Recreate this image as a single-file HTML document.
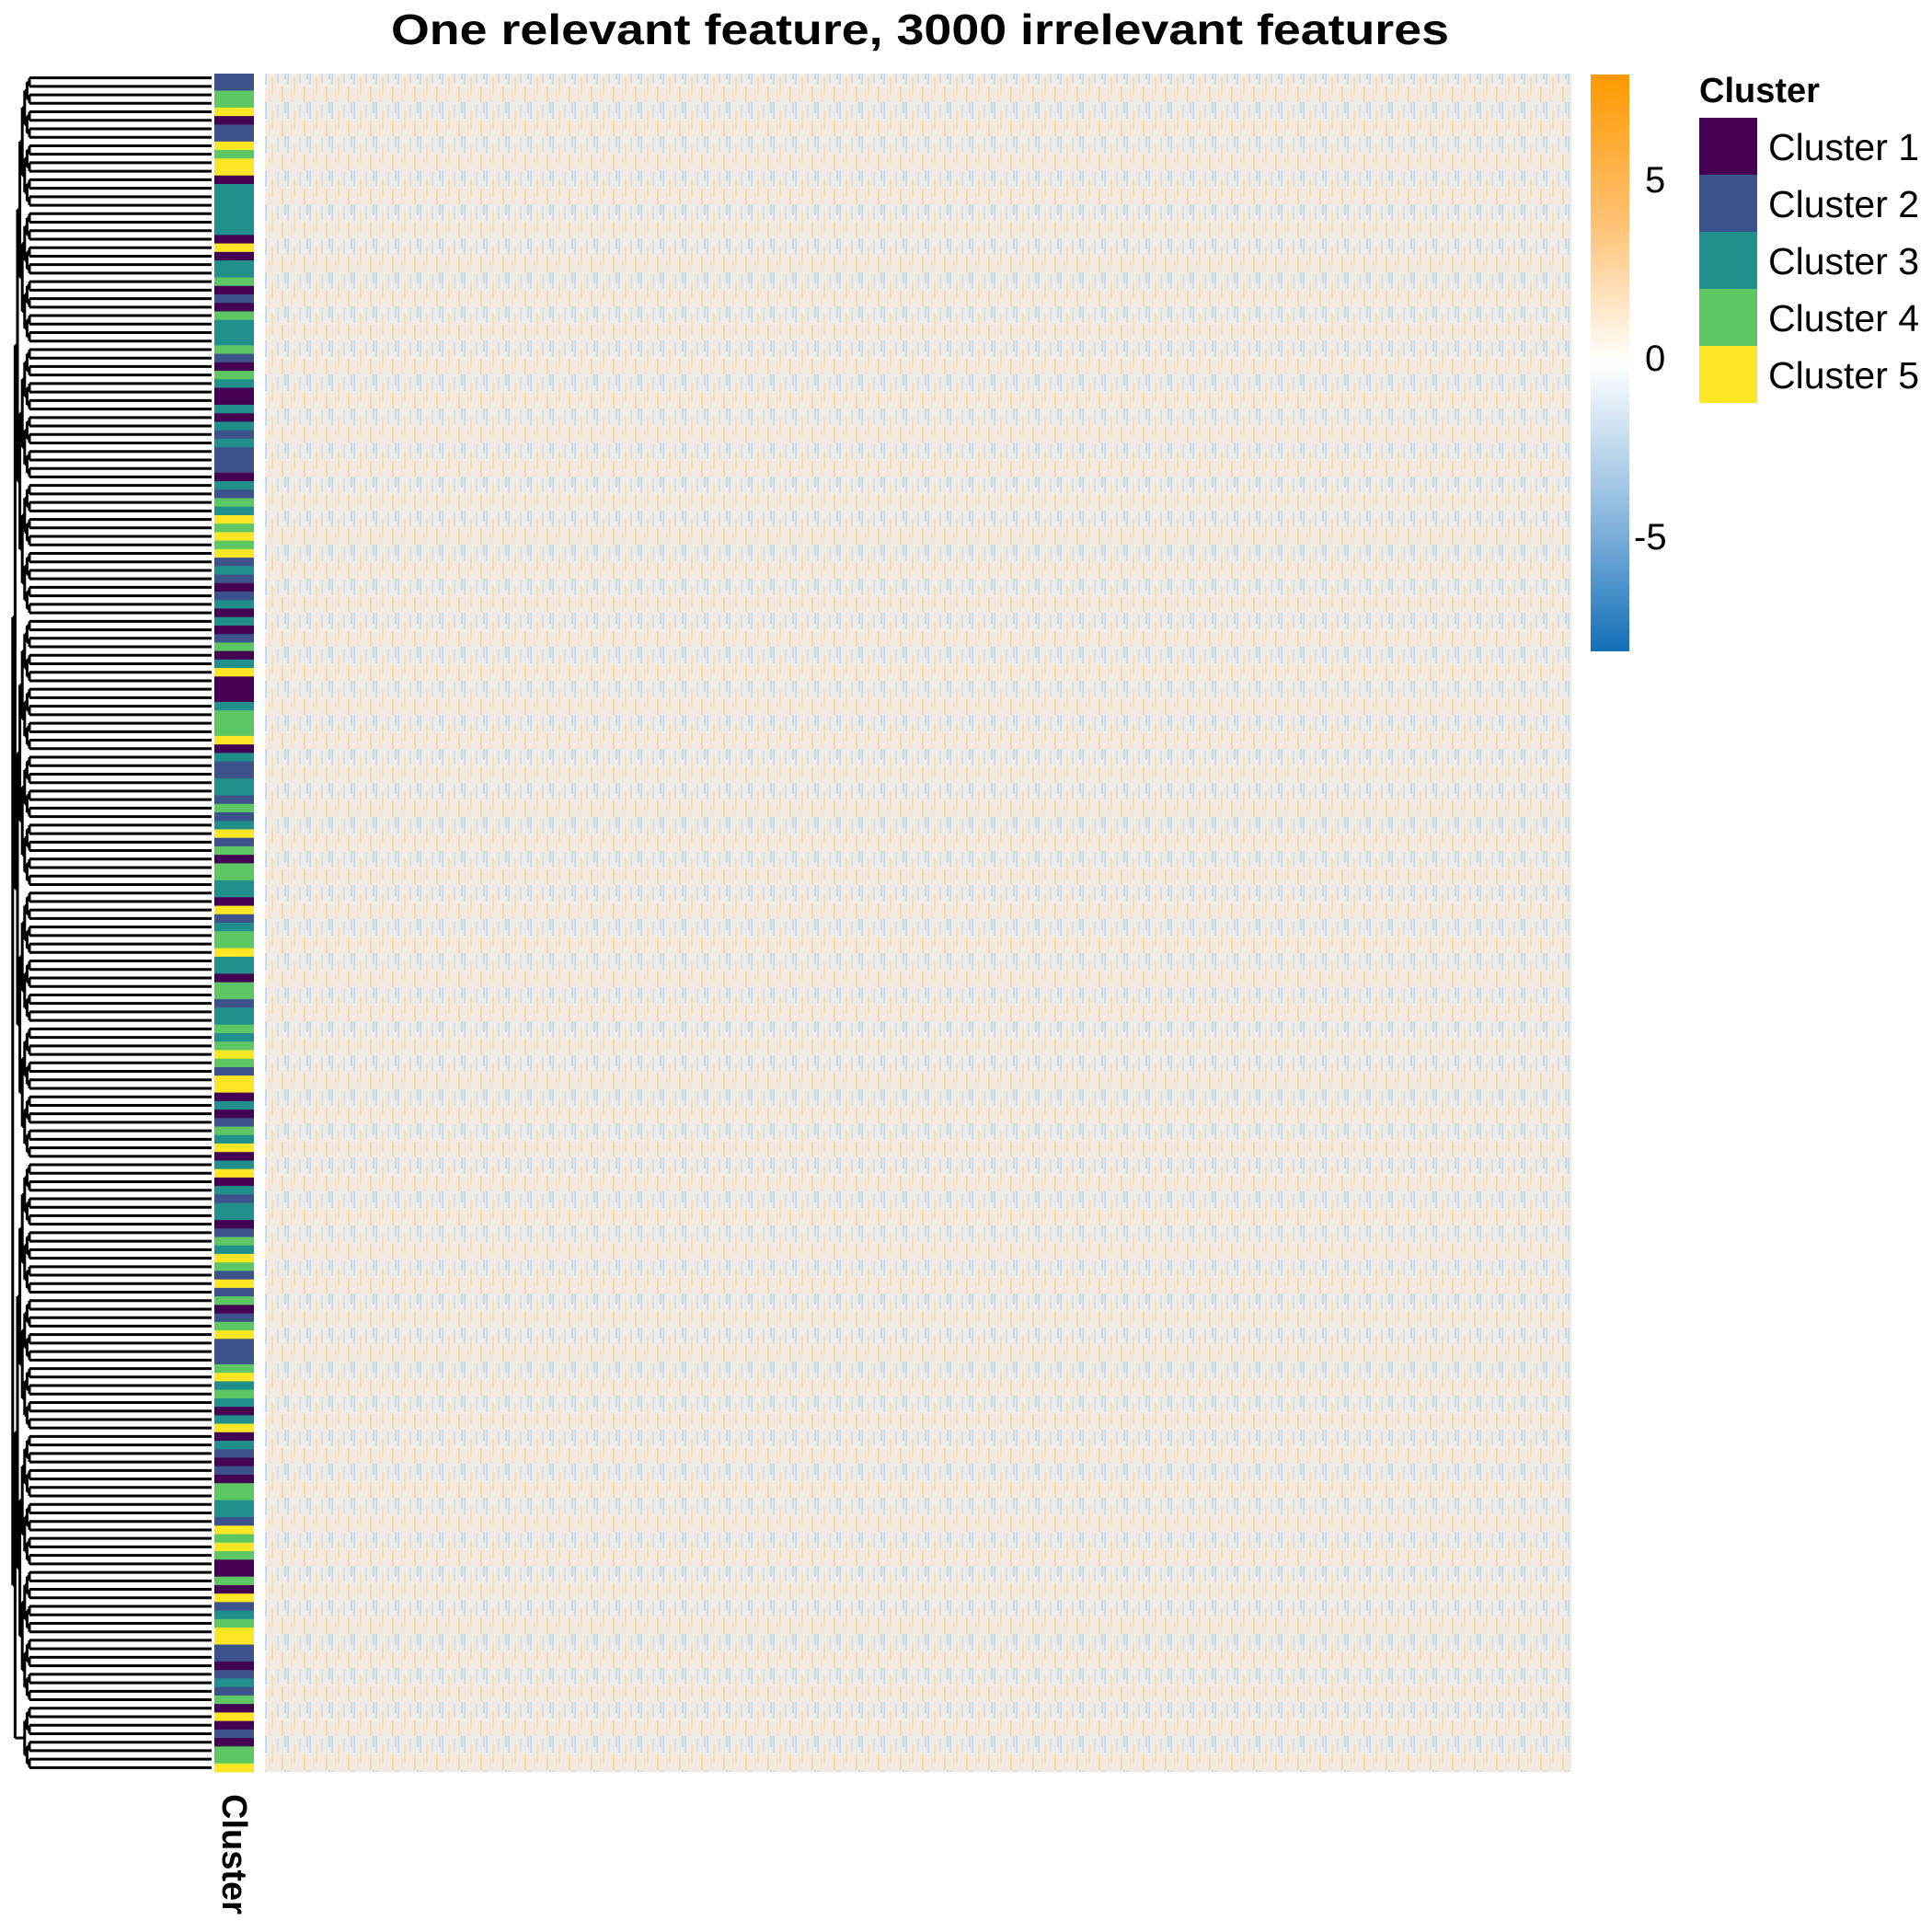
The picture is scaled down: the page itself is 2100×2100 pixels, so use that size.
<!DOCTYPE html>
<html><head><meta charset="utf-8">
<style>
html,body{margin:0;padding:0;background:#fff;}
svg{display:block;font-family:"Liberation Sans",Arial,sans-serif;}
</style></head>
<body>
<svg id="chart" width="2100" height="2100" viewBox="0 0 2100 2100">
  <text x="1000" y="48" text-anchor="middle" font-size="46" font-weight="bold" textLength="1150" lengthAdjust="spacingAndGlyphs">One relevant feature, 3000 irrelevant features</text>
  <g id="dendro"></g>
  <g id="annot"></g>
  <rect x="288" y="80" width="1420" height="1846" fill="#efebe4"/>
  <rect x="288" y="80" width="1420" height="1846" fill="url(#noise)"/>
  <defs>
    <pattern id="noise" width="24" height="37" patternUnits="userSpaceOnUse">
      <rect x="0" y="0" width="2" height="18" fill="#c6dbee"/>
      <rect x="7" y="9" width="2" height="20" fill="#fcdcae"/>
      <rect x="13" y="2" width="2" height="15" fill="#cfe0f0"/>
      <rect x="18" y="20" width="2" height="17" fill="#fbd39c"/>
      <rect x="4" y="24" width="2" height="13" fill="#fde2bc"/>
      <rect x="21" y="0" width="2" height="12" fill="#c4d8ec"/>
    </pattern>
    <linearGradient id="cbar" x1="0" y1="0" x2="0" y2="1">
      <stop offset="0" stop-color="#ff9900"/>
      <stop offset="0.25" stop-color="#ffc070"/>
      <stop offset="0.5" stop-color="#ffffff"/>
      <stop offset="0.75" stop-color="#92bde0"/>
      <stop offset="1" stop-color="#1470b8"/>
    </linearGradient>
  </defs>
  <text transform="translate(242,1950) rotate(90)" font-size="38" font-weight="bold">Cluster</text>
  <g>
    <rect x="1729" y="81" width="42" height="627" fill="url(#cbar)"/>
    <text x="1788" y="209" font-size="40">5</text>
    <text x="1788" y="403" font-size="40">0</text>
    <text x="1776" y="597" font-size="40">-5</text>
  </g>
  <g id="legend">
    <text x="1847" y="111" font-size="38" font-weight="bold">Cluster</text>
  </g>
</svg>
<script>
const clusterNames = ["Cluster 1","Cluster 2","Cluster 3","Cluster 4","Cluster 5"];
const clusterColors = ["#440154","#3b528b","#21908c","#5dc863","#fde725"];
const rowClusters = [
2,2,4,4,5,1,2,2,5,4,5,5,1,3,3,3,3,3,3,1,5,1,3,3,4,1,2,1,4,3,3,3,4,2,1,4,3,1,1,3,1,3,2,3,2,2,2,1,3,2,4,
3,5,4,5,4,5,2,3,2,1,2,3,1,3,1,2,4,1,3,5,1,1,1,3,4,4,4,5,1,3,2,2,3,3,2,4,2,3,5,2,4,1,4,4,3,3,1,5,2,3,
4,4,5,3,3,1,4,4,2,3,3,4,3,4,5,4,2,5,5,1,3,1,2,4,3,5,1,3,5,1,3,2,3,3,1,2,4,3,5,4,2,5,2,4,1,2,4,5,2,2,2,
4,5,3,4,3,1,3,5,1,3,2,1,2,1,4,4,3,3,2,5,4,5,4,1,1,4,1,5,2,3,4,5,5,2,2,1,2,3,2,4,1,5,1,2,1,4,4,5
];
const NS="http://www.w3.org/2000/svg";
const top0=80, bot0=1926, ax0=233, ax1=276;
const n=rowClusters.length, rh=(bot0-top0)/n;
function yRow(i){return top0+i*rh;}
const annot=document.getElementById('annot');
rowClusters.forEach((c,i)=>{
  const r=document.createElementNS(NS,'rect');
  r.setAttribute('x',ax0);r.setAttribute('y',yRow(i));
  r.setAttribute('width',ax1-ax0);r.setAttribute('height',rh+0.5);
  r.setAttribute('fill',clusterColors[c-1]);
  
  
  annot.appendChild(r);
});
const dg=document.getElementById('dendro');
function line(x1,y1,x2,y2){
  const l=document.createElementNS(NS,'path');
  l.setAttribute('d', y1===y2 ? `M${x1},${y1}H${x2}` : `M${x1},${y1}V${y2}`);
  l.setAttribute('stroke','#000');l.setAttribute('stroke-width','3');l.setAttribute('fill','none');
  
  
  dg.appendChild(l);
}
let nodes=rowClusters.map((c,i)=>({y:yRow(i)+rh/2,x:230}));
let level=0;
while(nodes.length>1){
  const next=[];const hx=32-level*2.6;
  for(let i=0;i<nodes.length;i+=2){
    if(i+1<nodes.length){
      const a=nodes[i],b=nodes[i+1];
      line(a.x,a.y,hx,a.y);line(b.x,b.y,hx,b.y);line(hx,a.y,hx,b.y);
      next.push({x:hx,y:(a.y+b.y)/2});
    } else next.push(nodes[i]);
  }
  nodes=next;level++;
}
const lg=document.getElementById('legend');
clusterNames.forEach((nm,i)=>{
  const r=document.createElementNS(NS,'rect');
  r.setAttribute('x',1847);r.setAttribute('y',128+i*62);
  r.setAttribute('width',63);r.setAttribute('height',62);
  r.setAttribute('fill',clusterColors[i]);
  
  
  lg.appendChild(r);
  const t=document.createElementNS(NS,'text');
  t.setAttribute('x',1922);t.setAttribute('y',174+i*62);
  t.setAttribute('font-size','41');t.textContent=nm;
  
  
  lg.appendChild(t);
});
</script>
</body></html>
